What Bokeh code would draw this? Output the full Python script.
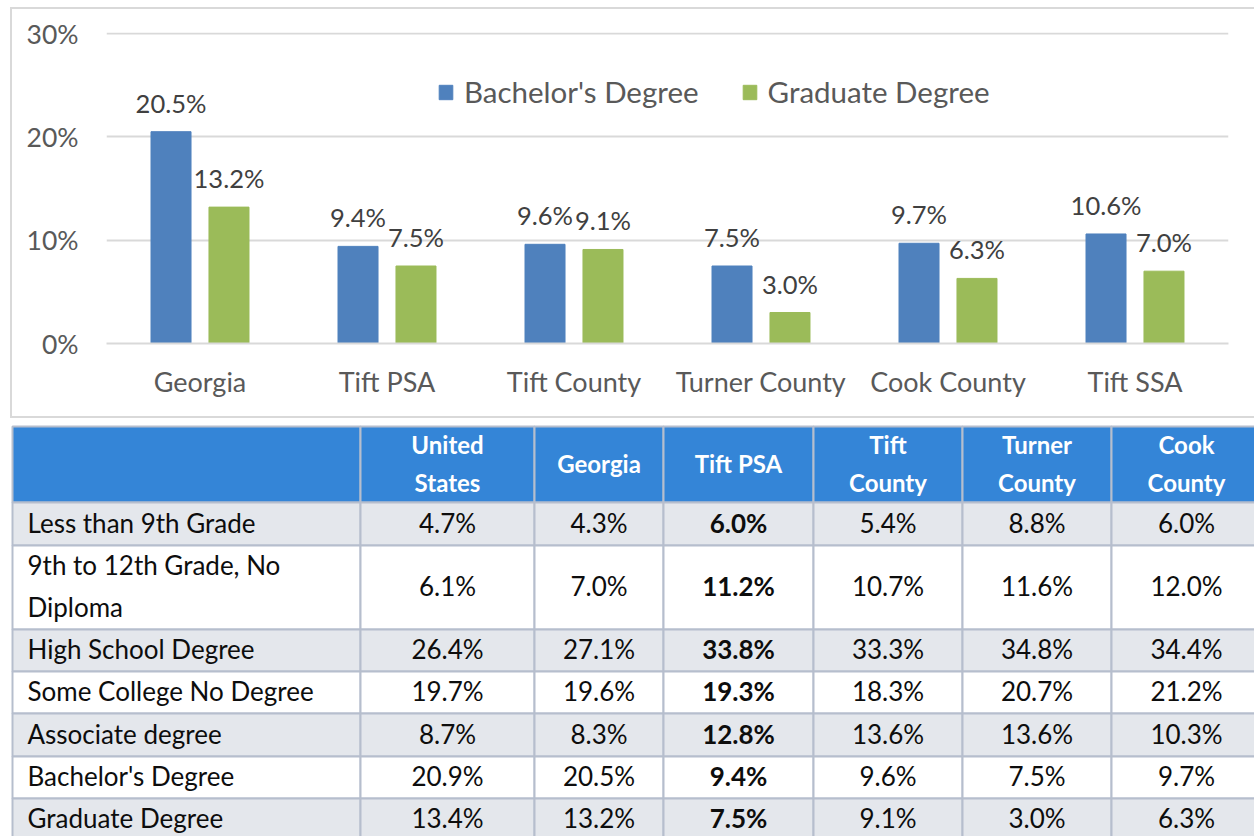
from bokeh.plotting import figure
from bokeh.models import (FactorRange, Range1d, ColumnDataSource, Legend, LegendItem,
                          NumeralTickFormatter, FixedTicker)
from bokeh.transform import dodge
from bokeh.layouts import column
from bokeh.embed import file_html
from bokeh.resources import INLINE
from bokeh.core.properties import value

# ---------------- chart data ----------------
areas = ["Georgia", "Tift PSA", "Tift County", "Turner County", "Cook County", "Tift SSA"]
bachelors = [0.205, 0.094, 0.096, 0.075, 0.097, 0.106]
graduate = [0.132, 0.075, 0.091, 0.030, 0.063, 0.070]
y_ticks = [0, 0.1, 0.2, 0.3]

# ---------------- table data ----------------
row_labels = ["Less than 9th Grade", "9th to 12th Grade, No\nDiploma", "High School Degree",
              "Some College No Degree", "Associate degree", "Bachelor's Degree", "Graduate Degree"]
col_headers = ["United\nStates", "Georgia", "Tift PSA", "Tift\nCounty", "Turner\nCounty", "Cook\nCounty"]
united_states = [4.7, 6.1, 26.4, 19.7, 8.7, 20.9, 13.4]
georgia = [4.3, 7.0, 27.1, 19.6, 8.3, 20.5, 13.2]
tift_psa = [6.0, 11.2, 33.8, 19.3, 12.8, 9.4, 7.5]
tift_county = [5.4, 10.7, 33.3, 18.3, 13.6, 9.6, 9.1]
turner_county = [8.8, 11.6, 34.8, 20.7, 13.6, 7.5, 3.0]
cook_county = [6.0, 12.0, 34.4, 21.2, 10.3, 9.7, 6.3]
table_columns = [united_states, georgia, tift_psa, tift_county, turner_county, cook_county]
bold_column = 2

# ---------------- styles ----------------
FONT = "Lato"
CHART_TEXT = "#595959"
LABEL_TEXT = "#404040"
BLUE = "#4F81BD"
GREEN = "#9BBB59"
GRID = "#D9D9D9"
HEADER_BLUE = "#3485D7"
ROW_GRAY = "#E4E7EC"
TABLE_LINE = "#B6BECD"
TABLE_TEXT = "#0D0D0D"

# ================= chart =================
src = ColumnDataSource(dict(
    area=areas, bach=bachelors, grad=graduate,
    bach_lbl=[f"{v*100:.1f}%" for v in bachelors],
    grad_lbl=[f"{v*100:.1f}%" for v in graduate],
))

chart_box = (
    f"linear-gradient({GRID},{GRID}) 10px 7px / 2px 411px no-repeat, "
    f"linear-gradient({GRID},{GRID}) 10px 7px / 1260px 2px no-repeat, "
    f"linear-gradient({GRID},{GRID}) 10px 416px / 1260px 2px no-repeat, white"
)

p1 = figure(x_range=FactorRange(factors=areas, range_padding=0), y_range=Range1d(0, 0.301),
            width=1254, height=420, output_backend="svg", toolbar_location=None,
            min_border_left=106, min_border_right=26, min_border_top=32, min_border_bottom=77,
            styles={"background": chart_box})
p1.frame_align = False
p1.outline_line_color = None
p1.background_fill_color = None
p1.border_fill_color = None

OFF = 0.155
BW = 0.214
r1 = p1.vbar(x=dodge("area", -OFF, range=p1.x_range), top="bach", width=BW, source=src,
             fill_color=BLUE, line_color=BLUE)
r2 = p1.vbar(x=dodge("area", OFF, range=p1.x_range), top="grad", width=BW, source=src,
             fill_color=GREEN, line_color=GREEN)

for xoff, col in ((-OFF, "bach"), (OFF, "grad")):
    p1.text(x=dodge("area", xoff, range=p1.x_range), y=col, text=col + "_lbl", source=src,
            text_align="center", text_baseline="alphabetic", y_offset=-29,
            text_font=value(FONT), text_font_size="25.5px", text_color=LABEL_TEXT)

p1.yaxis.ticker = FixedTicker(ticks=y_ticks)
p1.yaxis.formatter = NumeralTickFormatter(format="0%")
p1.yaxis.axis_line_color = None
p1.yaxis.major_tick_line_color = None
p1.yaxis.minor_tick_line_color = None
p1.yaxis.major_label_text_font = FONT
p1.yaxis.major_label_text_font_size = "26.5px"
p1.yaxis.major_label_text_color = CHART_TEXT
p1.yaxis.major_label_standoff = 22

p1.ygrid.ticker = FixedTicker(ticks=y_ticks)
p1.ygrid.grid_line_color = GRID
p1.ygrid.grid_line_width = 2
p1.xgrid.grid_line_color = None

p1.xaxis.axis_line_color = GRID
p1.xaxis.axis_line_width = 2
p1.xaxis.major_tick_line_color = None
p1.xaxis.minor_tick_line_color = None
p1.xaxis.major_label_text_font = FONT
p1.xaxis.major_label_text_font_size = "27px"
p1.xaxis.major_label_text_color = CHART_TEXT
p1.xaxis.major_label_standoff = 15

legend = Legend(items=[LegendItem(label="Bachelor's Degree", renderers=[r1]),
                       LegendItem(label="Graduate Degree", renderers=[r2])],
                orientation="horizontal", location=(331, 234), padding=0, margin=0,
                spacing=42, label_standoff=10, glyph_width=17, glyph_height=18,
                label_text_font=FONT, label_text_font_size="29.5px", label_text_color=CHART_TEXT,
                border_line_color=None, background_fill_alpha=0)
p1.add_layout(legend)

# ================= table =================
table_left = 12
table_top = 426
col_widths = [348, 174, 129, 150, 149, 149, 150]
header_height = 76
row_heights = [43, 84, 42, 42, 43, 42, 42]
label_pad = 15

col_edges = [table_left]
for w in col_widths:
    col_edges.append(col_edges[-1] + w)
row_edges = [table_top, table_top + header_height]
for h in row_heights:
    row_edges.append(row_edges[-1] + h)

p2 = figure(width=1254, height=416, x_range=Range1d(0, 1254), y_range=Range1d(836, 420),
            min_border=0, output_backend="svg", toolbar_location=None,
            x_axis_location=None, y_axis_location=None)
p2.frame_align = False
p2.outline_line_color = None
p2.grid.grid_line_color = None

# cells
L, R, T, B, F = [], [], [], [], []
for ri in range(len(row_edges) - 1):
    for ci in range(len(col_widths)):
        L.append(col_edges[ci]); R.append(col_edges[ci + 1])
        T.append(row_edges[ri]); B.append(row_edges[ri + 1])
        if ri == 0:
            F.append(HEADER_BLUE)
        else:
            F.append(ROW_GRAY if (ri - 1) % 2 == 0 else "white")
p2.quad(left=L, right=R, top=T, bottom=B, fill_color=F, line_color=TABLE_LINE, line_width=2)

# header text
hx = [(col_edges[i + 1] + col_edges[i + 2]) / 2 for i in range(len(col_headers))]
hy = [(row_edges[0] + row_edges[1]) / 2 - 1] * len(col_headers)
p2.text(x=hx, y=hy, text=col_headers, text_align="center", text_baseline="middle",
        text_font=value(FONT), text_font_style="bold", text_font_size="24px",
        text_color="white", text_line_height=1.28)

# row labels
ry = [(row_edges[i + 1] + row_edges[i + 2]) / 2 - 1.5 for i in range(len(row_labels))]
p2.text(x=[table_left + label_pad] * len(row_labels), y=ry, text=row_labels,
        text_align="left", text_baseline="middle", text_font=value(FONT),
        text_font_size="26px", text_color=TABLE_TEXT, text_line_height=1.31)

# values
for ci, vals in enumerate(table_columns):
    cx = (col_edges[ci + 1] + col_edges[ci + 2]) / 2
    p2.text(x=[cx] * len(vals), y=ry, text=[f"{v:.1f}%" for v in vals],
            text_align="center", text_baseline="middle", text_font=value(FONT),
            text_font_size="26px", text_color=TABLE_TEXT,
            text_font_style="bold" if ci == bold_column else "normal")

layout = column(p1, p2, spacing=0)
open("out.html", "w").write(file_html(layout, INLINE))
